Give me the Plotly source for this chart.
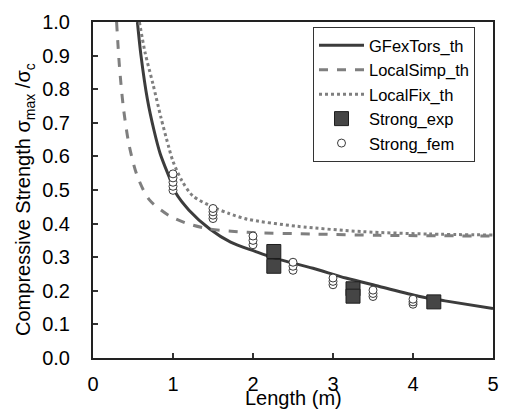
import plotly.graph_objects as go

# Theoretical curves: member length (m) vs normalised compressive strength
gfex_L = [0.555, 0.60, 0.68, 0.76, 0.84, 0.95, 1.03, 1.2, 1.46, 1.72, 2.02, 2.26, 2.75, 3.16, 3.58, 4.07, 4.40, 5.0]
gfex_s = [1.0, 0.90, 0.77, 0.68, 0.608, 0.54, 0.493, 0.440, 0.384, 0.345, 0.318, 0.298, 0.267, 0.238, 0.213, 0.184, 0.170, 0.147]

simp_L = [0.295, 0.33, 0.38, 0.45, 0.55, 0.70, 0.95, 1.195, 1.46, 1.93, 2.75, 3.58, 5.0]
simp_s = [1.0, 0.87, 0.745, 0.635, 0.544, 0.472, 0.424, 0.399, 0.384, 0.374, 0.369, 0.365, 0.363]

fix_L = [0.58, 0.65, 0.75, 0.85, 0.95, 1.0, 1.11, 1.25, 1.52, 1.7, 1.93, 2.55, 3.37, 4.19, 5.0]
fix_s = [1.0, 0.91, 0.815, 0.715, 0.625, 0.585, 0.528, 0.482, 0.447, 0.43, 0.413, 0.392, 0.376, 0.369, 0.366]

# Experimental results
exp_L = [2.26, 2.26, 3.25, 3.25, 4.26]
exp_s = [0.317, 0.273, 0.206, 0.184, 0.167]

# Finite element results
fem_L = [1.0, 1.0, 1.0, 1.0, 1.0, 1.5, 1.5, 1.5, 1.5, 2.0, 2.0, 2.0,
         2.5, 2.5, 2.5, 3.0, 3.0, 3.0, 3.5, 3.5, 3.5, 4.0, 4.0, 4.0]
fem_s = [0.499, 0.511, 0.523, 0.536, 0.548, 0.415, 0.425, 0.435, 0.445, 0.337, 0.35, 0.363,
         0.261, 0.273, 0.285, 0.218, 0.228, 0.238, 0.183, 0.192, 0.202, 0.160, 0.167, 0.175]

x_ticks = [0, 1, 2, 3, 4, 5]
y_ticks = [0.0, 0.1, 0.2, 0.3, 0.4, 0.5, 0.6, 0.7, 0.8, 0.9, 1.0]

FONT = "Liberation Sans, Arial"

fig = go.Figure()
fig.add_trace(go.Scatter(x=gfex_L, y=gfex_s, mode="lines", name="GFexTors_th",
                         line=dict(color="#3c3c3c", width=3, shape="spline", smoothing=0.8)))
fig.add_trace(go.Scatter(x=simp_L, y=simp_s, mode="lines", name="LocalSimp_th",
                         line=dict(color="#7f7f7f", width=3, dash="dash", shape="spline", smoothing=0.8)))
fig.add_trace(go.Scatter(x=fix_L, y=fix_s, mode="lines", name="LocalFix_th",
                         line=dict(color="#7f7f7f", width=3, dash="dot", shape="spline", smoothing=0.8)))
fig.add_trace(go.Scatter(x=exp_L, y=exp_s, mode="markers", name="Strong_exp",
                         marker=dict(symbol="square", size=14, color="#454545",
                                     line=dict(color="#1e1e1e", width=1))))
fig.add_trace(go.Scatter(x=fem_L, y=fem_s, mode="markers", name="Strong_fem",
                         marker=dict(symbol="circle", size=8, color="white",
                                     line=dict(color="#3a3a3a", width=1))))

tick_font = dict(family=FONT, size=20, color="black")

fig.update_layout(
    width=510, height=412,
    margin=dict(l=93, r=11, t=16, b=54),
    paper_bgcolor="white", plot_bgcolor="white",
    font=dict(family=FONT, color="black"),
    showlegend=True,
    legend=dict(x=0.55, y=0.985, xanchor="left", yanchor="top",
                bordercolor="#333333", borderwidth=1, bgcolor="white",
                font=dict(family=FONT, size=16.5, color="black"),
                tracegroupgap=0, itemwidth=45, entrywidth=130),
    xaxis=dict(range=[0, 5], tickvals=x_ticks, ticks="inside", ticklen=5,
               tickcolor="#333", tickwidth=1.5, ticklabelstandoff=7,
               showline=True, linecolor="#222", linewidth=2, mirror=True,
               showgrid=False, zeroline=False, tickfont=tick_font),
    yaxis=dict(range=[0, 1.0], tickvals=y_ticks, tickformat=".1f", ticks="inside", ticklen=5,
               tickcolor="#333", tickwidth=1.5, ticklabelstandoff=17,
               showline=True, linecolor="#222", linewidth=2, mirror=True,
               showgrid=False, zeroline=False, tickfont=tick_font),
    annotations=[
        dict(text="Length (m)", xref="paper", yref="paper", x=0.5, y=-0.12,
             xanchor="center", yanchor="middle", showarrow=False,
             font=dict(family=FONT, size=20, color="black")),
        dict(text="Compressive Strength σ<sub>max</sub> /σ<sub>c</sub>",
             xref="paper", yref="paper", x=-0.1695, y=0.471, textangle=-90,
             xanchor="center", yanchor="middle", showarrow=False,
             font=dict(family=FONT, size=20, color="black")),
    ],
)

fig.write_html("out.html")
